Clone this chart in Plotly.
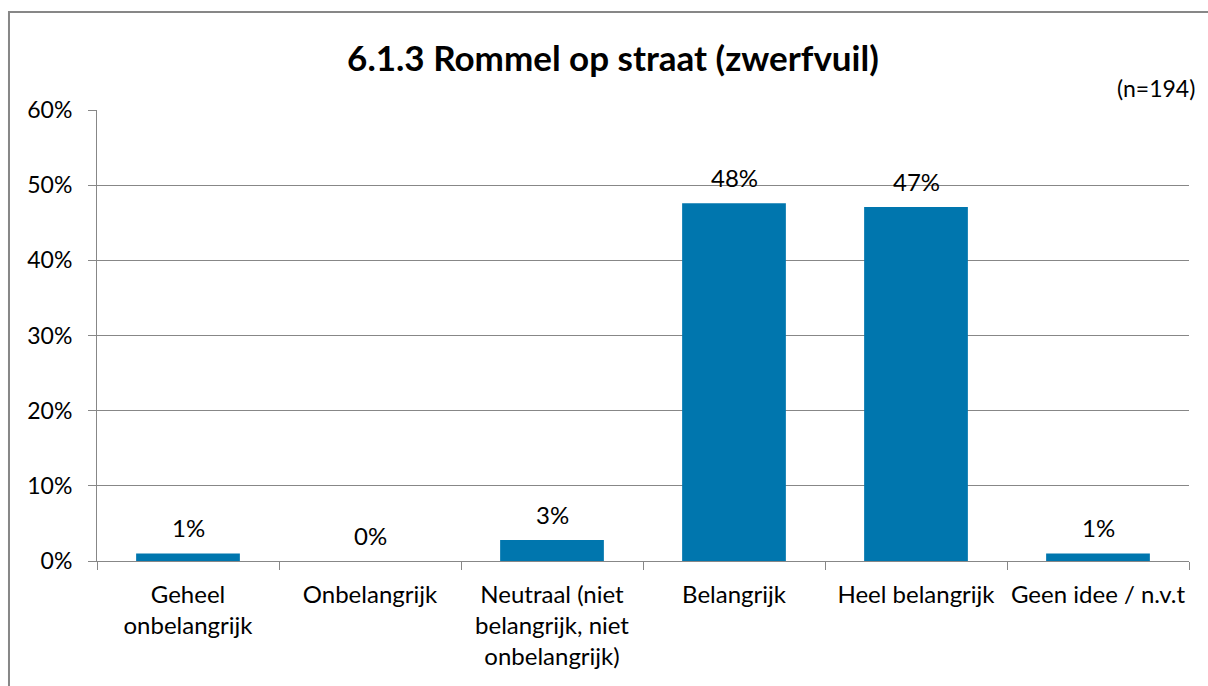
import plotly.graph_objects as go

# Survey answers for question 6.1.3 (n=194), percentages per answer category
categories = [
    "Geheel<br>onbelangrijk",
    "Onbelangrijk",
    "Neutraal (niet<br>belangrijk, niet<br>onbelangrijk)",
    "Belangrijk",
    "Heel belangrijk",
    "Geen idee / n.v.t",
]
percentages = [1.0, 0.0, 2.8, 47.6, 47.1, 1.0]
y_ticks = [0, 10, 20, 30, 40, 50, 60]
y_tick_labels = [f"{v}%" for v in y_ticks]

FONT = "Lato, Carlito, Calibri, sans-serif"
BAR_COLOR = "#0076AE"
AXIS_COLOR = "#878787"

fig = go.Figure()
fig.add_trace(
    go.Bar(
        x=categories,
        y=percentages,
        marker=dict(color=BAR_COLOR, line=dict(width=0)),
        width=0.57,
        hoverinfo="skip",
    )
)

# Value labels above each bar
for cat, val in zip(categories, percentages):
    fig.add_annotation(
        x=cat, y=val, text=f"{round(val):.0f}%", showarrow=False,
        yanchor="bottom", yshift=9,
        font=dict(family=FONT, size=24, color="#000000"),
    )

# Sample size note
fig.add_annotation(
    xref="paper", yref="paper", x=1.007, y=1.0, xanchor="right", yanchor="bottom",
    yshift=6, text="(n=194)", showarrow=False,
    font=dict(family=FONT, size=23, color="#000000"),
)

# Chart frame (top and left edges visible within the page)
fig.add_shape(
    type="rect", xref="paper", yref="paper",
    x0=-0.0806, x1=1.10, y0=-0.40, y1=1.2173,
    line=dict(color=AXIS_COLOR, width=2), fillcolor="rgba(0,0,0,0)", layer="below",
)

fig.update_layout(
    width=1208, height=686,
    margin=dict(l=97, r=19, t=110, b=125, autoexpand=False),
    paper_bgcolor="white", plot_bgcolor="white",
    showlegend=False,
    font=dict(family=FONT, size=24, color="#000000"),
    title=dict(
        text="<b>6.1.3 Rommel op straat (zwerfvuil)</b>",
        x=0.4725, xref="paper", xanchor="center",
        y=0.915, yref="container", yanchor="middle", automargin=False,
        font=dict(family=FONT, size=35, color="#000000"),
    ),
    bargap=0.43,
)

fig.update_yaxes(
    range=[0, 60], tickvals=y_ticks, ticktext=y_tick_labels,
    showgrid=True, gridcolor=AXIS_COLOR, gridwidth=1,
    showline=True, linecolor=AXIS_COLOR, linewidth=1,
    ticks="outside", ticklen=8, tickcolor=AXIS_COLOR,
    zeroline=False, ticklabelstandoff=11, automargin=False,
    tickfont=dict(family=FONT, size=23, color="#000000"),
)
fig.update_xaxes(
    type="category",
    showline=True, linecolor=AXIS_COLOR, linewidth=1,
    ticks="outside", ticklen=8, tickcolor=AXIS_COLOR, tickson="boundaries",
    showgrid=False, ticklabelstandoff=12, tickangle=0, automargin=False,
    tickfont=dict(family=FONT, size=24, color="#000000"),
)

fig.write_html("out.html")
